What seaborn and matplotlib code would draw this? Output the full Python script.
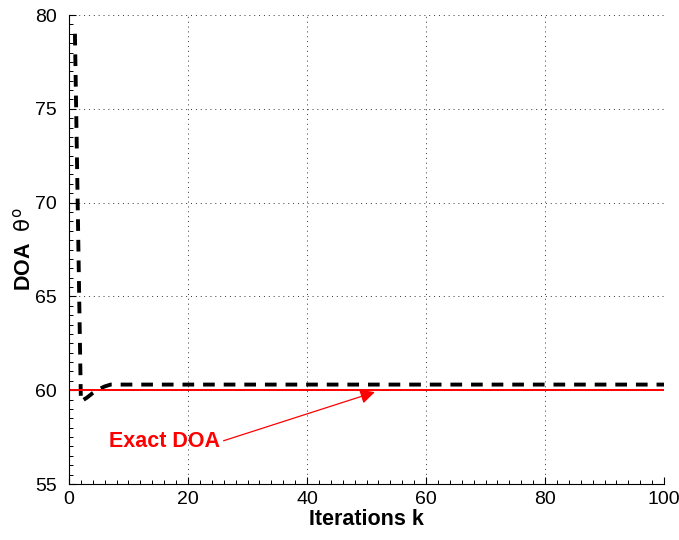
import numpy as np
import pandas as pd
import matplotlib
matplotlib.use("Agg")
import matplotlib.pyplot as plt
import seaborn as sns
from matplotlib.ticker import MultipleLocator

sns.set_style("white")
plt.rcParams['font.family'] = ['Liberation Sans', 'DejaVu Sans']
plt.rcParams['mathtext.fontset'] = 'dejavusans'
plt.rcParams['text.color'] = 'black'
plt.rcParams['axes.labelcolor'] = 'black'
plt.rcParams['xtick.color'] = 'black'
plt.rcParams['ytick.color'] = 'black'

# Data
iters_est = list(range(1, 101))
est_head = [79.0, 59.4, 59.6, 59.85, 60.05, 60.2, 60.3]
doa_est = est_head + [60.3] * (100 - len(est_head))
iters_exact = [0, 100]
doa_exact = [60, 60]
xticks = [0, 20, 40, 60, 80, 100]
yticks = [55, 60, 65, 70, 75, 80]

df_est = pd.DataFrame({"k": iters_est, "doa": doa_est})
df_exact = pd.DataFrame({"k": iters_exact, "doa": doa_exact})

fig = plt.figure(figsize=(6.79, 5.40), dpi=100)
ax = fig.add_axes([0.1016, 0.1037, 0.8764, 0.8685])

sns.lineplot(data=df_est, x="k", y="doa", ax=ax, color="black", linewidth=2.8,
             linestyle=(0, (3.0, 2.3)))
sns.lineplot(data=df_exact, x="k", y="doa", ax=ax, color="red", linewidth=1.4)

ax.set_xlim(0, 100)
ax.set_ylim(55, 80)
ax.set_xticks(xticks)
ax.set_yticks(yticks)
ax.xaxis.set_minor_locator(MultipleLocator(2))
ax.yaxis.set_minor_locator(MultipleLocator(0.5))
ax.tick_params(which='both', direction='in', bottom=True, left=True, top=False, right=False,
               labelsize=14, colors='black')
ax.tick_params(which='major', length=5, width=0.8)
ax.tick_params(axis='x', which='major', pad=5)
ax.tick_params(axis='y', which='major', pad=9)
ax.tick_params(which='minor', length=3, width=0.7, bottom=True, left=True)

ax.grid(True, which='major', linestyle=(0, (1, 4)), color='black', linewidth=0.7, alpha=0.8)
for s in ['top', 'right']:
    ax.spines[s].set_visible(False)
for s in ['left', 'bottom']:
    ax.spines[s].set_color('black')
    ax.spines[s].set_linewidth(0.8)

ax.set_xlabel("Iterations k", fontsize=15.5, fontweight='bold', labelpad=1)
ax.set_ylabel(r"DOA  $\mathrm{\theta}^{\mathrm{o}}$", fontsize=15.5, fontweight='bold')
ax.yaxis.set_label_coords(-0.056, 0.5)

ax.annotate("Exact DOA", xy=(51.4, 59.9), xytext=(16.1, 57.25),
            ha='center', va='center', color='red', fontsize=15.5, fontweight='bold',
            arrowprops=dict(arrowstyle='-|>', color='red', lw=0.9,
                            mutation_scale=22, shrinkA=0, shrinkB=0,
                            relpos=(1.0, 0.5)))

fig.savefig("out.png", dpi=100)
